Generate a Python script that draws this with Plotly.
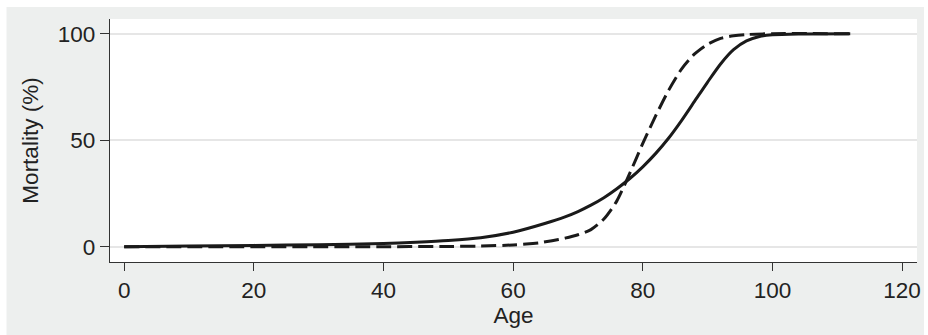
import plotly.graph_objects as go

# Data
age_solid = [0, 10, 20, 30, 40, 45, 50, 55, 60, 65, 68, 70, 72, 74, 76, 78, 80, 82, 84, 86, 88, 90, 92, 94, 96, 98, 100, 104, 112]
mort_solid = [0, 0.3, 0.6, 0.9, 1.5, 2.1, 2.9, 4.2, 6.8, 11, 14, 16.5, 19.5, 23, 27.2, 32, 37.5, 43.8, 51, 59.3, 68.3, 77.3, 85.8, 92.5, 96.6, 98.7, 99.5, 99.9, 100]

age_dash = [0, 40, 50, 55, 60, 62, 64, 66, 68, 70, 72, 74, 76, 78, 80, 82, 84, 86, 88, 90, 92, 94, 96, 100, 112]
mort_dash = [0, 0, 0.1, 0.3, 0.8, 1.2, 1.8, 2.8, 4.0, 5.6, 8.0, 13.0, 21.5, 34.5, 48.5, 61.5, 73.5, 83.5, 90.5, 95, 97.8, 99, 99.6, 100, 100]

x_ticks = [0, 20, 40, 60, 80, 100, 120]
y_ticks = [0, 50, 100]

W, H = 928, 335
L, R, T, B = 110, 7, 19, 73
pw, ph = W - L - R, H - T - B

fig = go.Figure()
fig.add_trace(go.Scatter(x=age_dash, y=mort_dash, mode="lines",
                         line=dict(color="#1a1a1a", width=3, dash="15px,6px", shape="spline", smoothing=0.7),
                         showlegend=False, hoverinfo="skip"))
fig.add_trace(go.Scatter(x=age_solid, y=mort_solid, mode="lines",
                         line=dict(color="#1a1a1a", width=3, shape="spline", smoothing=0.7),
                         showlegend=False, hoverinfo="skip"))

# gray outer frame (background region of the graph)
fig.add_shape(type="rect", xref="paper", yref="paper", layer="below",
              x0=(6 - L) / pw, x1=(W - L) / pw,
              y0=(H - B - H) / ph, y1=(H - B - 7) / ph,
              fillcolor="#EDEFEE", line=dict(width=0))
# white plot region
fig.add_shape(type="rect", xref="paper", yref="paper", layer="below",
              x0=0, x1=1, y0=0, y1=1,
              fillcolor="white", line=dict(width=0))

font = dict(family="Liberation Sans, Arial, sans-serif", size=22.5, color="#222222")

fig.update_layout(
    width=W, height=H,
    margin=dict(l=L, r=R, t=T, b=B),
    paper_bgcolor="white", plot_bgcolor="white",
    font=font,
    xaxis=dict(range=[-2.19, 122.3], tickvals=x_ticks, ticks="outside", ticklen=8,
               tickcolor="#333333", tickwidth=1.3, showline=True, linecolor="#333333", linewidth=1.3,
               showgrid=False, zeroline=False, tickfont=font,
               title=dict(text="Age", font=font, standoff=0)),
    yaxis=dict(range=[-7.2, 106.9], tickvals=y_ticks, ticks="outside", ticklen=9,
               tickcolor="#333333", tickwidth=1.3, showline=True, linecolor="#333333", linewidth=1.3,
               showgrid=True, gridcolor="#E6E6E6", gridwidth=1.5, zeroline=False, tickfont=font,
               title=dict(text="Mortality (%)", font=font, standoff=12)),
)

fig.write_html("out.html")
